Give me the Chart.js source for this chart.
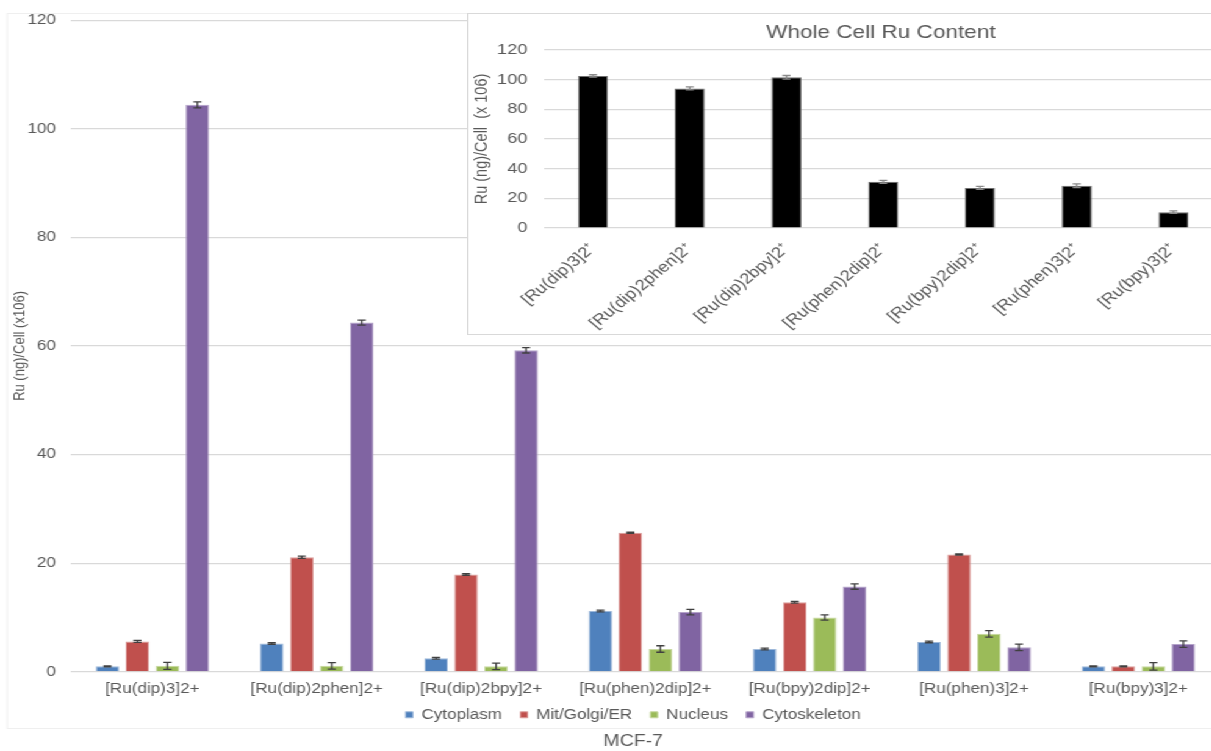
<!DOCTYPE html>
<html>
<head>
<meta charset="utf-8">
<script src="https://cdn.jsdelivr.net/npm/chart.js@4.4.1/dist/chart.umd.min.js"></script>
<style>
  html, body { margin: 0; padding: 0; background: #fff; overflow: hidden; width: 1211px; height: 751px; }
  /* the figure is laid out narrow and stretched sideways, like the original export */
  #stage { position: absolute; left: 0; top: 0; width: 1038px; height: 751px; transform: scaleX(1.22); transform-origin: 0 0; }
  #main { position: absolute; left: 0; top: 0; }
  #inset { position: absolute; left: 383px; top: 13px; }
</style>
</head>
<body>
<div id="stage">
  <canvas id="main" width="1038" height="751"></canvas>
  <canvas id="inset" width="678" height="322"></canvas>
</div>
<script>
// Ru uptake by subcellular fraction, MCF-7 cells (ng Ru per cell, x10^6)
const complexes = ['[Ru(dip)3]2+', '[Ru(dip)2phen]2+', '[Ru(dip)2bpy]2+', '[Ru(phen)2dip]2+',
                   '[Ru(bpy)2dip]2+', '[Ru(phen)3]2+', '[Ru(bpy)3]2+'];
const fractionNames = ['Cytoplasm', 'Mit/Golgi/ER', 'Nucleus', 'Cytoskeleton'];

const cytoplasm       = [1.0, 5.2, 2.5, 11.2, 4.2, 5.5, 1.0];
const cytoplasmErr    = [0.1, 0.15, 0.15, 0.15, 0.15, 0.15, 0.1];
const mitGolgiER      = [5.6, 21.1, 17.9, 25.6, 12.8, 21.6, 1.0];
const mitGolgiERErr   = [0.2, 0.2, 0.15, 0.1, 0.15, 0.1, 0.1];
const nucleus         = [1.1, 1.1, 1.0, 4.2, 10.0, 7.0, 1.0];
const nucleusErr      = [0.65, 0.6, 0.6, 0.6, 0.5, 0.6, 0.7];
const cytoskeleton    = [104.4, 64.3, 59.2, 11.0, 15.7, 4.5, 5.1];
const cytoskeletonErr = [0.55, 0.45, 0.5, 0.5, 0.5, 0.6, 0.6];

const mainTicks = [0, 20, 40, 60, 80, 100, 120];

// Whole-cell Ru content
const wholeCellLabels = ['[Ru(dip)3]2\u207A', '[Ru(dip)2phen]2\u207A', '[Ru(dip)2bpy]2\u207A', '[Ru(phen)2dip]2\u207A',
                         '[Ru(bpy)2dip]2\u207A', '[Ru(phen)3]2\u207A', '[Ru(bpy)3]2\u207A'];
const wholeCell    = [102.5, 94.1, 101.6, 31.1, 27.0, 28.5, 10.7];
const wholeCellErr = [0.8, 1.0, 1.2, 1.0, 1.0, 1.3, 0.8];

const insetTicks = [0, 20, 40, 60, 80, 100, 120];

const FONT = "'Liberation Sans', Arial, sans-serif";
const TEXT = '#595959';
const GRID = '#d9d9d9';

// vertical error bars with caps, drawn from each dataset's `errors` array
const errorBars = {
  id: 'errorBars',
  afterDatasetsDraw(chart, args, opts) {
    const ctx = chart.ctx;
    const yScale = chart.scales.y;
    ctx.save();
    ctx.strokeStyle = opts.color;
    ctx.lineWidth = opts.width;
    chart.data.datasets.forEach((ds, i) => {
      const meta = chart.getDatasetMeta(i);
      if (!ds.errors || meta.hidden) return;
      meta.data.forEach((bar, j) => {
        const v = ds.data[j], e = ds.errors[j];
        const x = bar.x;
        const t = yScale.getPixelForValue(v + e);
        const b = yScale.getPixelForValue(v - e);
        ctx.beginPath();
        ctx.moveTo(x, t); ctx.lineTo(x, b);
        ctx.moveTo(x - opts.cap, t); ctx.lineTo(x + opts.cap, t);
        ctx.moveTo(x - opts.cap, b); ctx.lineTo(x + opts.cap, b);
        ctx.stroke();
      });
    });
    ctx.restore();
  }
};

// white panel with a thin frame behind a chart
const panel = {
  id: 'panel',
  beforeDraw(chart, args, opts) {
    const ctx = chart.ctx;
    ctx.save();
    ctx.fillStyle = '#ffffff';
    ctx.fillRect(0, 0, chart.width, chart.height);
    ctx.strokeStyle = opts.color;
    ctx.lineWidth = 1;
    ctx.strokeRect(opts.x + 0.5, opts.y + 0.5, opts.w, opts.h);
    ctx.restore();
  }
};

const fixedTicks = list => scale => { scale.ticks = list.map(v => ({ value: v })); };
// fixed axis box size; tick labels may spill outside the box
const fixSize = (prop, size) => scale => {
  scale[prop] = size;
  scale._computeLabelArea = () => undefined;
};

new Chart(document.getElementById('main'), {
  type: 'bar',
  data: {
    labels: complexes,
    datasets: [
      { label: fractionNames[0], data: cytoplasm,    errors: cytoplasmErr,    backgroundColor: '#4F81BD', borderColor: '#9db8da', borderWidth: 1 },
      { label: fractionNames[1], data: mitGolgiER,   errors: mitGolgiERErr,   backgroundColor: '#C0504D', borderColor: '#dc9e9c', borderWidth: 1 },
      { label: fractionNames[2], data: nucleus,      errors: nucleusErr,      backgroundColor: '#9BBB59', borderColor: '#c6d89f', borderWidth: 1 },
      { label: fractionNames[3], data: cytoskeleton, errors: cytoskeletonErr, backgroundColor: '#8064A2', borderColor: '#b4a3c9', borderWidth: 1 }
    ]
  },
  options: {
    responsive: false,
    animation: false,
    layout: { padding: { top: 20, right: 37.6, left: 37.6, bottom: 0 } },
    datasets: { bar: { categoryPercentage: 0.73, barPercentage: 0.785 } },
    scales: {
      x: {
        grid: { display: false, drawTicks: false },
        border: { display: false },
        ticks: { font: { family: FONT, size: 14 }, color: TEXT, padding: 9, maxRotation: 0, autoSkip: false },
        afterFit: fixSize('height', 21)
      },
      y: {
        min: 0, max: 120,
        afterBuildTicks: fixedTicks(mainTicks),
        grid: { color: GRID, drawTicks: false, lineWidth: 1.2 },
        border: { display: false },
        ticks: { font: { family: FONT, size: 14 }, color: TEXT, padding: 11.7 },
        title: { display: true, text: 'Ru (ng)/Cell (x106)', font: { family: FONT, size: 13 }, color: TEXT, padding: { top: -29, bottom: 0 } },
        afterFit: fixSize('width', 20)
      }
    },
    plugins: {
      legend: {
        position: 'bottom',
        labels: { boxWidth: 6, boxHeight: 6, padding: 15, font: { family: FONT, size: 14 }, color: TEXT }
      },
      title: {
        display: true, position: 'bottom', text: 'MCF-7',
        font: { family: FONT, size: 16, weight: 'normal' }, color: TEXT,
        padding: { top: 0, bottom: 0 }
      },
      tooltip: { enabled: false },
      errorBars: { color: '#404040', width: 1.3, cap: 3.3 },
      panel: { color: '#efefef', x: 5.5, y: 13, w: 1200, h: 715 }
    }
  },
  plugins: [panel, errorBars]
});

new Chart(document.getElementById('inset'), {
  type: 'bar',
  data: {
    labels: wholeCellLabels,
    datasets: [
      { label: 'Whole cell', data: wholeCell, errors: wholeCellErr, backgroundColor: '#000000', borderColor: '#6f6f6f', borderWidth: 1 }
    ]
  },
  options: {
    responsive: false,
    animation: false,
    layout: { padding: { top: 0, right: 59.5, left: 59.5, bottom: 0 } },
    datasets: { bar: { categoryPercentage: 1, barPercentage: 0.31 } },
    scales: {
      x: {
        grid: { display: false, drawTicks: false },
        border: { display: false },
        ticks: { font: { family: FONT, size: 15 }, color: TEXT, padding: 12, minRotation: 45, maxRotation: 45, autoSkip: false },
        afterFit: fixSize('height', 107)
      },
      y: {
        min: 0, max: 120,
        afterBuildTicks: fixedTicks(insetTicks),
        grid: { color: GRID, drawTicks: false, lineWidth: 1.2 },
        border: { display: false },
        ticks: { font: { family: FONT, size: 15 }, color: TEXT, padding: 14 },
        title: { display: true, text: 'Ru (ng)/Cell  (x 106)', font: { family: FONT, size: 14.5 }, color: TEXT, padding: { top: -56.2, bottom: 0 } },
        afterFit: fixSize('width', 3.9)
      }
    },
    plugins: {
      legend: { display: false },
      title: {
        display: true, text: 'Whole Cell Ru Content',
        font: { family: FONT, size: 18.5, weight: 'normal' }, color: TEXT,
        padding: { top: 8.9, bottom: 5.9 }
      },
      tooltip: { enabled: false },
      errorBars: { color: '#8a8a8a', width: 1.3, cap: 3.3 },
      panel: { color: '#d9d9d9', x: 0, y: 0, w: 900, h: 321 }
    }
  },
  plugins: [panel, errorBars]
});
</script>
</body>
</html>
